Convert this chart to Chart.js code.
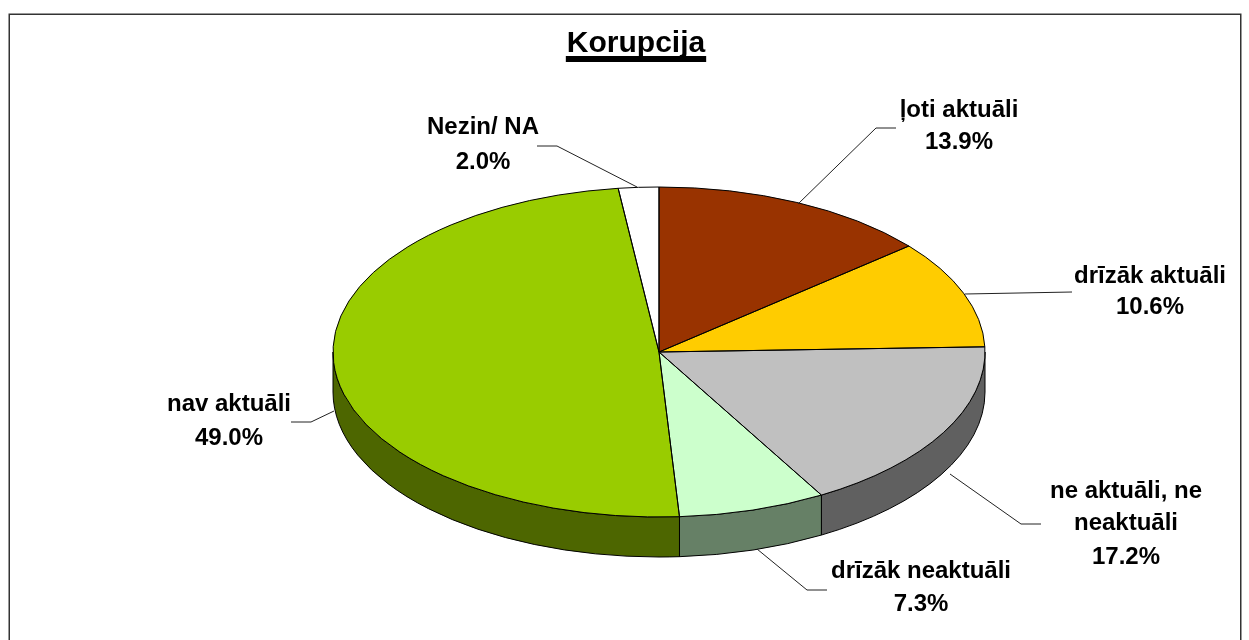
<!DOCTYPE html>
<html>
<head>
<meta charset="utf-8">
<style>html,body{margin:0;padding:0;background:#fff;overflow:hidden}canvas{display:block}</style>
<script src="https://cdn.jsdelivr.net/npm/chart.js@4"></script>
</head>
<body>
<canvas id="c" width="1249" height="640"></canvas>
<script>
const titleText = "Korupcija";
const categories = ["ļoti aktuāli", "drīzāk aktuāli", "ne aktuāli, ne neaktuāli", "drīzāk neaktuāli", "nav aktuāli", "Nezin/ NA"];
const values = [13.9, 10.6, 17.2, 7.3, 49.0, 2.0];
const topColors = ["#993300", "#FFCC00", "#C0C0C0", "#CCFFCC", "#99CC00", "#FFFFFF"];
const sideColors = ["#4D1A00", "#806600", "#606060", "#668066", "#4D6600", "#808080"];

/* layout of the callouts, kept apart from the data */
const labelLayout = [
  {lines:["ļoti aktuāli"], cx:959, ys:[110,142], leader:[[798,204],[876,128],[896,128]]},
  {lines:["drīzāk aktuāli"], cx:1150, ys:[276,307], leader:[[965,294],[1072,292]]},
  {lines:["ne aktuāli, ne","neaktuāli"], cx:1126, ys:[491,523,557], leader:[[950,474],[1021,524],[1041,524]]},
  {lines:["drīzāk neaktuāli"], cx:921, ys:[571,604], leader:[[757,549],[807,590],[827,590]]},
  {lines:["nav aktuāli"], cx:229, ys:[404,438], leader:[[334,411],[311,422],[291,422]]},
  {lines:["Nezin/ NA"], cx:483, ys:[127,162], leader:[[637,187],[557,146],[537,146]]}
];
const FONT = '"Liberation Sans", Arial, sans-serif';
const RX = 326, SQUASH = 165 / 326, DEPTH = 40;

const tiltPlugin = {
  id: "tilt",
  beforeDraw(chart) {
    const {ctx, width, height} = chart;
    ctx.save();
    ctx.fillStyle = "#fff";
    ctx.fillRect(0, 0, width, height);
    ctx.strokeStyle = "#333";
    ctx.lineWidth = 1.5;
    ctx.beginPath();
    ctx.moveTo(9.25, height + 2);
    ctx.lineTo(9.25, 14.25);
    ctx.lineTo(1240.75, 14.25);
    ctx.lineTo(1240.75, height + 2);
    ctx.stroke();
    ctx.restore();
  },
  beforeDatasetsDraw(chart) {
    const {ctx} = chart;
    const arcs = chart.getDatasetMeta(0).data;
    ctx.save();
    ctx.strokeStyle = "#000";
    ctx.lineWidth = 1;
    arcs.forEach((a, i) => {
      const s = Math.max(a.startAngle, 0), e = Math.min(a.endAngle, Math.PI);
      if (e <= s) return;
      const ry = a.outerRadius * SQUASH;
      ctx.beginPath();
      ctx.ellipse(a.x, a.y, a.outerRadius, ry, 0, s, e);
      ctx.ellipse(a.x, a.y + DEPTH, a.outerRadius, ry, 0, e, s, true);
      ctx.closePath();
      ctx.fillStyle = sideColors[i];
      ctx.fill();
      ctx.stroke();
    });
    ctx.restore();
    const c = arcs[0];
    ctx.save();
    ctx.translate(0, c.y);
    ctx.scale(1, SQUASH);
    ctx.translate(0, -c.y);
  },
  afterDatasetsDraw(chart) {
    const {ctx} = chart;
    ctx.restore();
    const arcs = chart.getDatasetMeta(0).data;
    ctx.save();
    ctx.strokeStyle = "#000";
    ctx.lineWidth = 1;
    ctx.lineJoin = "round";
    arcs.forEach(a => {
      ctx.beginPath();
      ctx.moveTo(a.x, a.y);
      ctx.ellipse(a.x, a.y, a.outerRadius, a.outerRadius * SQUASH, 0, a.startAngle, a.endAngle);
      ctx.closePath();
      ctx.stroke();
    });
    ctx.restore();
  },
  afterDraw(chart) {
    const {ctx} = chart;
    ctx.save();
    ctx.fillStyle = "#000";
    ctx.textAlign = "center";
    ctx.textBaseline = "alphabetic";
    ctx.font = "bold 30px " + FONT;
    ctx.fillText(titleText, 636, 52);
    const tw = ctx.measureText(titleText).width;
    ctx.fillRect(636 - tw / 2 - 1, 56, tw + 2, 6);
    ctx.textBaseline = "middle";
    labelLayout.forEach((l, i) => {
      ctx.strokeStyle = "#222";
      ctx.lineWidth = 1;
      ctx.beginPath();
      l.leader.forEach((p, j) => j ? ctx.lineTo(p[0], p[1]) : ctx.moveTo(p[0], p[1]));
      ctx.stroke();
      ctx.font = "bold 24px " + FONT;
      const txt = l.lines.concat([values[i].toFixed(1) + "%"]);
      txt.forEach((t, j) => ctx.fillText(t, l.cx, l.ys[j]));
    });
    ctx.restore();
  }
};

new Chart(document.getElementById("c"), {
  type: "pie",
  data: {
    labels: categories,
    datasets: [{
      data: values,
      backgroundColor: topColors,
      borderWidth: 0,
      clip: false
    }]
  },
  options: {
    responsive: false,
    animation: false,
    radius: RX,
    layout: {padding: {left: 69, right: 0, top: 64, bottom: 0}},
    plugins: {legend: {display: false}, tooltip: {enabled: false}, title: {display: false}}
  },
  plugins: [tiltPlugin]
});
</script>
</body>
</html>
